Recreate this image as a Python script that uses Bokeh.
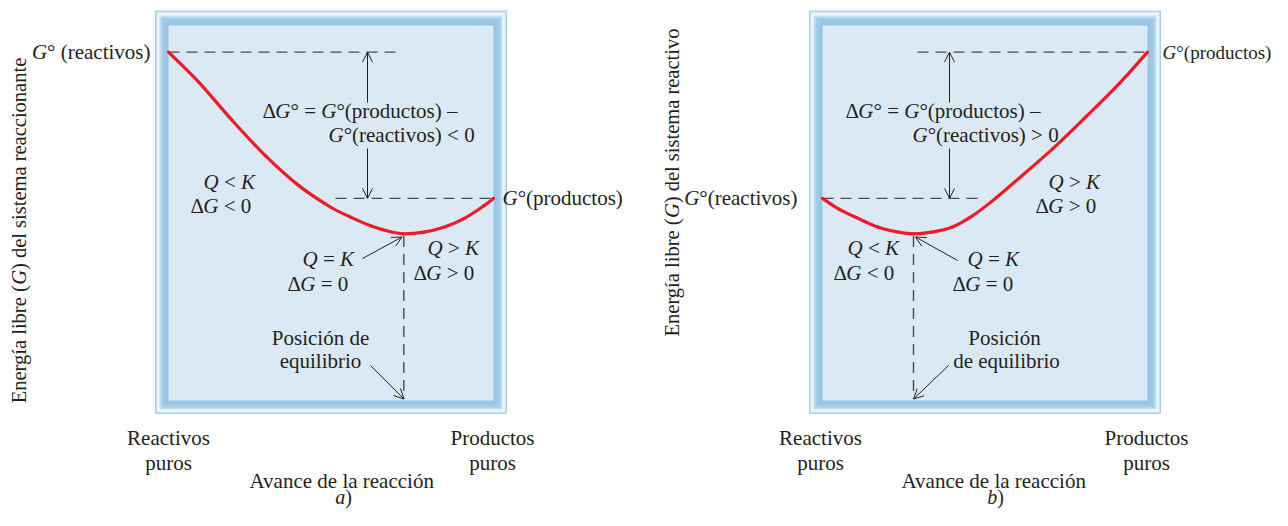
import math
from bokeh.plotting import figure
from bokeh.models import Range1d, ColumnDataSource, Arrow, OpenHead
from bokeh.core.properties import value
from bokeh.embed import file_html
from bokeh.resources import INLINE

# ---------------- data ----------------
# reaction progress (0 = pure reactants, 1 = pure products) and free energy G (arbitrary units)
progress_a = [0.0, 0.093, 0.196, 0.298, 0.401, 0.498, 0.560, 0.622, 0.683, 0.724, 0.786, 0.847, 0.909, 0.970, 1.0]
G_a = [9.29, 8.49, 7.47, 6.53, 5.73, 5.16, 4.89, 4.66, 4.50, 4.445, 4.49, 4.62, 4.85, 5.19, 5.39]
progress_b = [0.0, 0.049, 0.111, 0.172, 0.234, 0.280, 0.336, 0.398, 0.459, 0.521, 0.605, 0.708, 0.810, 0.913, 1.0]
G_b = [5.39, 5.11, 4.85, 4.62, 4.49, 4.445, 4.49, 4.62, 4.91, 5.31, 5.93, 6.71, 7.56, 8.45, 9.29]

ylabel_a = "Energía libre (G) del sistema reaccionante"
ylabel_b = "Energía libre (G) del sistema reactivo"
xlabel = "Avance de la reacción"
x_end_labels = ["Reactivos", "puros", "Productos", "puros"]
panel_tags = ["a", "b"]

# ---------------- layout constants ----------------
W, H, M = 1272, 510, 0
PXX, PXY = 325.0, 37.5          # pixels per unit of progress / of G
AX0, BX0, Y0 = 168.0, 822.0, 400.0
OFFB = (BX0 - AX0) / PXX
FS = 21
TS = 7.5                         # empirical baseline correction (px)
FONT = "Liberation Serif"
TXT = "#231f20"
DASH_C = "#4a4a4c"


def X(ix):
    return (ix - AX0) / PXX


def Y(iy):
    return (Y0 - iy) / PXY


p = figure(width=W, height=H, output_backend="svg", toolbar_location=None,
           x_range=Range1d(X(M), X(M + W)), y_range=Range1d(Y(M + H), Y(M)),
           min_border=0, x_axis_location=None, y_axis_location=None)
p.grid.visible = False
p.outline_line_color = None
p.background_fill_color = "white"
p.border_fill_color = "white"

# ---------------- frames ----------------
ring = [(1.00, "#a8cfe7"), (0.93, "#c6e0f1"), (0.86, "#e6f2f9"), (0.79, "#f2f8fc"),
        (0.72, "#e2eff8"), (0.65, "#cce3f2"), (0.58, "#b7d8ed"), (0.51, "#a8d0ea"),
        (0.44, "#a0cbe7"), (0.30, "#9ac7e5"), (0.15, "#96c4e3")]
for x0 in (0.0, OFFB):
    for f, c in ring:
        es, et = 13.5 * f, 15.0 * f
        p.quad(left=x0 - es / PXX, right=x0 + 1 + es / PXX,
               bottom=-es / PXY, top=10 + et / PXY,
               fill_color=c, line_color=None)
    p.quad(left=x0, right=x0 + 1, bottom=0, top=10, fill_color="#dbe9f5", line_color=None)

# ---------------- text helpers ----------------
NW = {' ': 250, '(': 333, ')': 333, '–': 500, '<': 564, '=': 564, '>': 564, '0': 500,
      'A': 722, 'E': 611, 'G': 722, 'K': 722, 'P': 556, 'Q': 722, 'R': 667,
      'a': 444, 'b': 500, 'c': 444, 'd': 500, 'e': 444, 'g': 500, 'h': 500, 'i': 278,
      'í': 278, 'l': 278, 'm': 778, 'n': 500, 'o': 500, 'ó': 500, 'p': 500, 'q': 500,
      'r': 333, 's': 389, 't': 278, 'u': 500, 'v': 500, 'y': 500, '°': 400, 'Δ': 612}
IW = {'G': 722, 'Q': 722, 'K': 667, 'a': 500, 'b': 500}

rows = {}


def width(s, it, fs):
    tab = IW if it else NW
    return sum(tab.get(ch, NW.get(ch, 500)) for ch in s) * fs / 1000.0


def segs_of(s):
    """split a string: characters G, Q, K are italic"""
    out = []
    for ch in s:
        it = ch in "GQK"
        if out and out[-1][1] == it:
            out[-1] = (out[-1][0] + ch, it)
        else:
            out.append((ch, it))
    return out


def put(ix, iy, segs, align="left", rot=False, fs=FS):
    tot = sum(width(s, it, fs) for s, it in segs)
    cum = {"left": 0, "center": -tot / 2, "right": -tot}[align]
    if rot:
        ix = ix - TS
    else:
        iy = iy - TS
    for s, it in segs:
        lead = s[:len(s) - len(s.lstrip())]
        body = s.strip()
        trail = s[len(s.rstrip()):] if body else ""
        cum += width(lead, it, fs)
        if body:
            r = rows.setdefault((it, fs), dict(x=[], y=[], text=[], angle=[]))
            if rot:
                r["x"].append(X(ix)); r["y"].append(Y(iy - cum)); r["angle"].append(math.pi / 2)
            else:
                r["x"].append(X(ix + cum)); r["y"].append(Y(iy)); r["angle"].append(0.0)
            r["text"].append(body)
            cum += width(body, it, fs)
        cum += width(trail, it, fs)


# panel a texts
put(150, 59, segs_of("G° (reactivos)"), "right")
put(502, 205, segs_of("G°(productos)"))
put(262, 118, segs_of("ΔG° = G°(productos) –"))
put(328, 142, segs_of("G°(reactivos) < 0"))
put(203, 189, segs_of("Q < K"))
put(190, 213, segs_of("ΔG < 0"))
put(302, 266, segs_of("Q = K"))
put(287, 291, segs_of("ΔG = 0"))
put(427, 255, segs_of("Q > K"))
put(413, 280, segs_of("ΔG > 0"))
put(320, 345, [("Posición de", False)], "center")
put(320, 368, [("equilibrio", False)], "center")
put(26, 230, segs_of(ylabel_a), "center", rot=True, fs=20.5)

# panel b texts
put(797, 205, segs_of("G°(reactivos)"), "right")
put(1162, 59, segs_of("G°(productos)"), fs=19)
put(845, 118, segs_of("ΔG° = G°(productos) –"))
put(912, 142, segs_of("G°(reactivos) > 0"))
put(1048, 189, segs_of("Q > K"))
put(1035, 213, segs_of("ΔG > 0"))
put(847, 255, segs_of("Q < K"))
put(833, 280, segs_of("ΔG < 0"))
put(967, 266, segs_of("Q = K"))
put(952, 291, segs_of("ΔG = 0"))
put(1004, 345, [("Posición", False)], "center")
put(1006, 368, [("de equilibrio", False)], "center")
put(679, 182, segs_of(ylabel_b), "center", rot=True, fs=20.5)

# x end labels and x titles
for cx_r, cx_p, cx_t, tag in ((168, 492, 342, panel_tags[0]), (820, 1146, 994, panel_tags[1])):
    put(cx_r, 445, [(x_end_labels[0], False)], "center")
    put(cx_r, 470, [(x_end_labels[1], False)], "center")
    put(cx_p, 445, [(x_end_labels[2], False)], "center")
    put(cx_p, 470, [(x_end_labels[3], False)], "center")
    put(cx_t, 488, [(xlabel, False)], "center")
    put(cx_t + 1, 504, [(tag, True), (")", False)], "center", fs=20)

# ---------------- dashed reference lines, arrows, curves ----------------
def dash(x0, y0, x1, y1):
    p.line([x0, x1], [y0, y1], line_color=DASH_C, line_width=1.4, line_dash="11 7")


def smooth(xs, ys, **kw):
    n = len(xs)
    P = list(zip(xs, ys))
    b = dict(x0=[], y0=[], x1=[], y1=[], cx0=[], cy0=[], cx1=[], cy1=[])
    for i in range(n - 1):
        p0 = P[i - 1] if i > 0 else P[i]
        p1, p2 = P[i], P[i + 1]
        p3 = P[i + 2] if i + 2 < n else P[i + 1]
        b["x0"].append(p1[0]); b["y0"].append(p1[1])
        b["x1"].append(p2[0]); b["y1"].append(p2[1])
        b["cx0"].append(p1[0] + (p2[0] - p0[0]) / 6); b["cy0"].append(p1[1] + (p2[1] - p0[1]) / 6)
        b["cx1"].append(p2[0] - (p3[0] - p1[0]) / 6); b["cy1"].append(p2[1] - (p3[1] - p1[1]) / 6)
    p.bezier(source=ColumnDataSource(b), x0="x0", y0="y0", x1="x1", y1="y1",
             cx0="cx0", cy0="cy0", cx1="cx1", cy1="cy1", **kw)


for prog, G, off, top_x, low_x, arr_x in (
        (progress_a, G_a, 0.0, (0.0, X(398)), (X(335), 1.0), X(367)),
        (progress_b, G_b, OFFB, (X(917) - OFFB, 1.0), (0.0, X(980) - OFFB), X(949) - OFFB)):
    Gr, Gp = G[0], G[-1]
    Ghi, Glo = max(Gr, Gp), min(Gr, Gp)
    imin = G.index(min(G))
    xm, gm = prog[imin], G[imin]
    dash(off + top_x[0], Ghi, off + top_x[1], Ghi)
    dash(off + low_x[0], Glo, off + low_x[1], Glo)
    dash(off + xm, gm - 0.06, off + xm, 0.05)
    for ys, ye in ((Y(102), Ghi), (Y(148), Glo)):
        p.add_layout(Arrow(end=OpenHead(size=10, line_width=1, line_color=TXT),
                           x_start=off + arr_x, y_start=ys, x_end=off + arr_x, y_end=ye,
                           line_width=1, line_color=TXT))
    smooth([off + v for v in prog], G, line_color="#ed1c24", line_width=3.2, line_cap="round")

# pointer arrows
for xs, ys, xe, ye in ((362, 258, 401.5, 236.5), (370, 365, 403.5, 398.5),
                       (957, 260, 915, 236.5), (948, 365, 913, 398.5)):
    p.add_layout(Arrow(end=OpenHead(size=10, line_width=1, line_color=TXT),
                       x_start=X(xs), y_start=Y(ys), x_end=X(xe), y_end=Y(ye),
                       line_width=1, line_color=TXT))

# draw texts
for (it, fs), r in rows.items():
    p.text(x="x", y="y", text="text", angle="angle", source=ColumnDataSource(r),
           text_font=value(FONT), text_font_size=value(f"{fs}px"),
           text_font_style="italic" if it else "normal",
           text_align="left", text_baseline="alphabetic", text_color=TXT)

open("out.html", "w").write(file_html(p, INLINE))
